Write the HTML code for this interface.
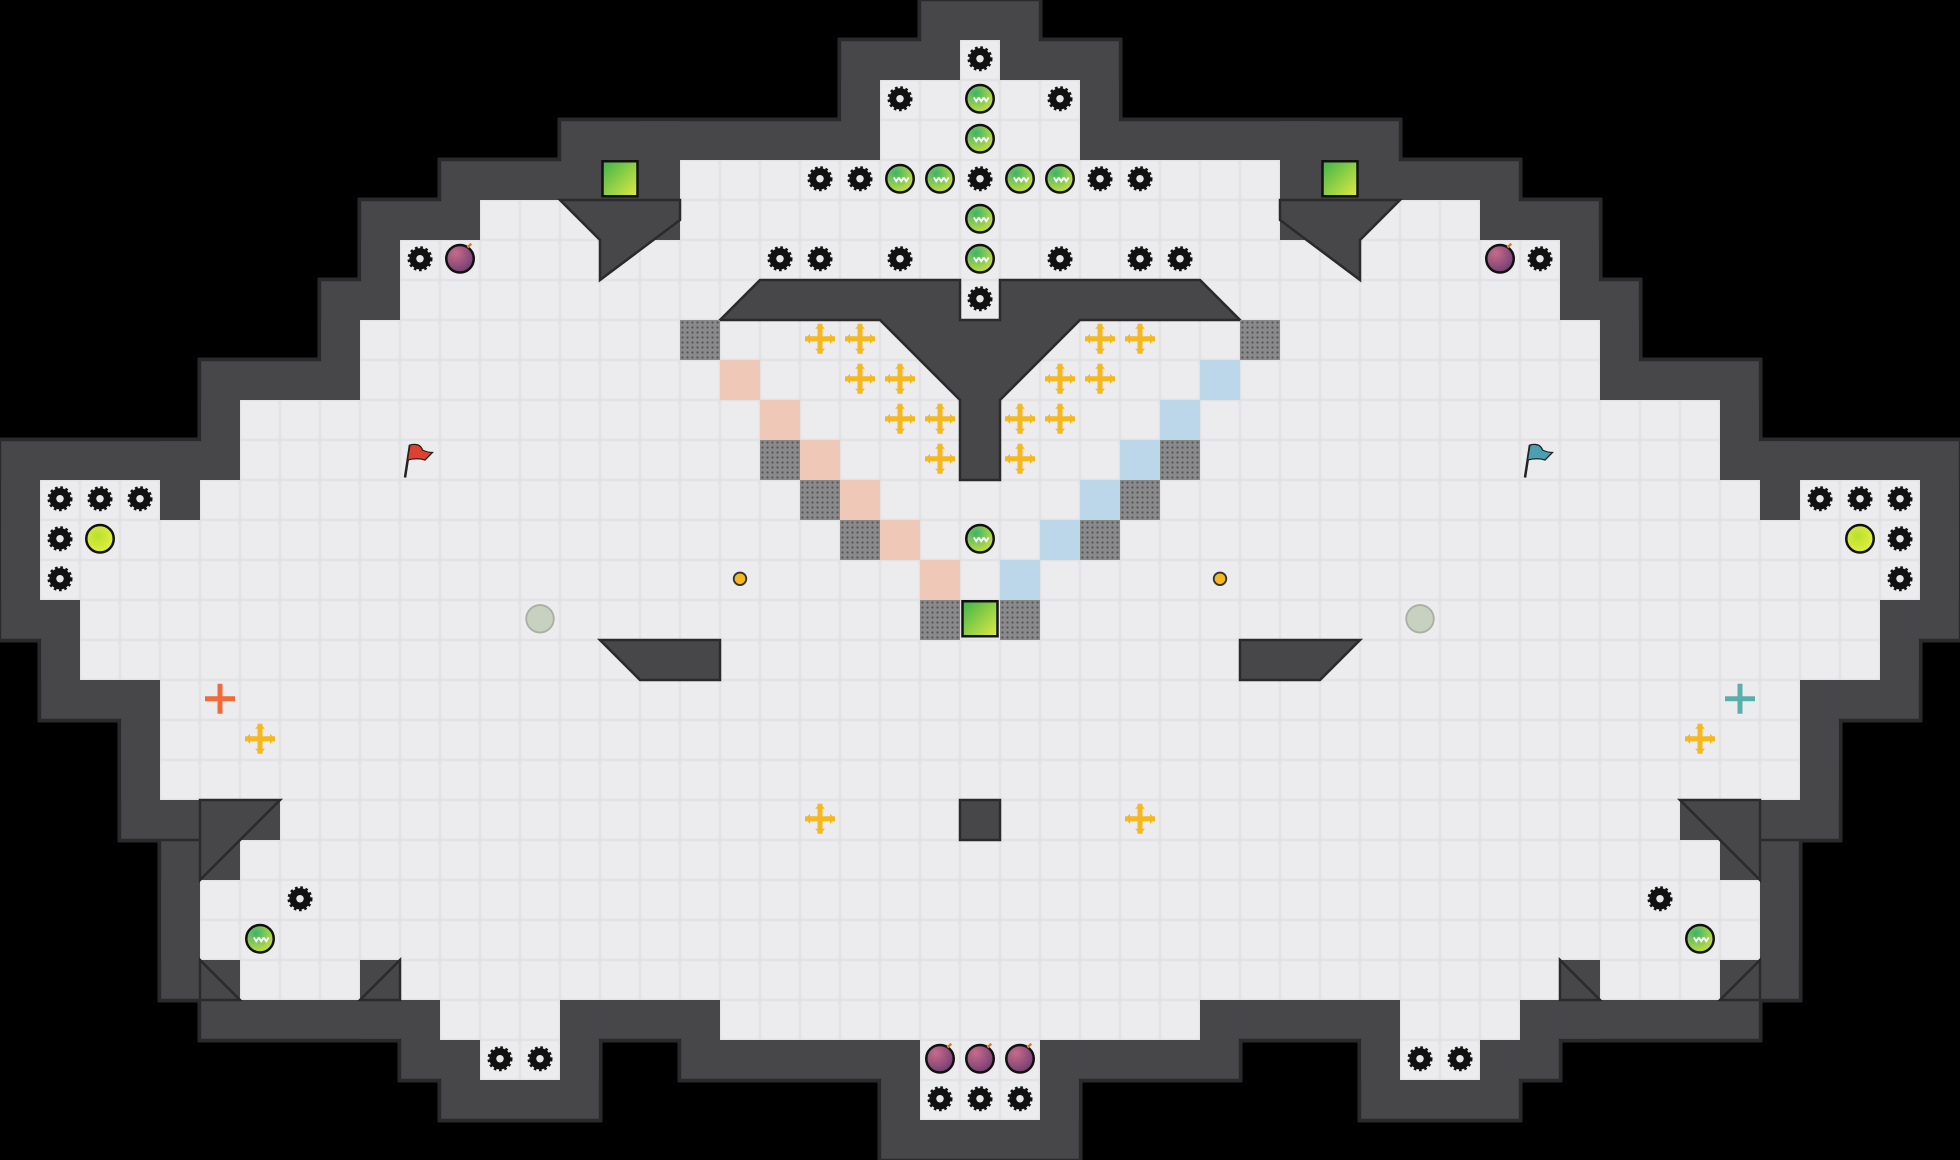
<!DOCTYPE html>
<html><head><meta charset="utf-8"><style>
html,body{margin:0;padding:0;background:#000;}
svg{display:block}
</style></head><body>
<svg id="s" width="1960" height="1160" viewBox="0 0 1568 928" xmlns="http://www.w3.org/2000/svg">
<defs>
<radialGradient id="gb" cx="0.35" cy="0.3" r="0.8"><stop offset="0" stop-color="#3cb46a"/><stop offset="1" stop-color="#d8e23a"/></radialGradient>
<radialGradient id="yb" cx="0.4" cy="0.4" r="0.7"><stop offset="0" stop-color="#b8e030"/><stop offset="1" stop-color="#e8f040"/></radialGradient>
<radialGradient id="bm" cx="0.35" cy="0.3" r="0.8"><stop offset="0" stop-color="#c86a8a"/><stop offset="1" stop-color="#6a3a70"/></radialGradient>
<linearGradient id="gs" x1="0" y1="0" x2="1" y2="1"><stop offset="0" stop-color="#3cb44a"/><stop offset="1" stop-color="#e0ea40"/></linearGradient>
<pattern id="dots" width="4" height="4" patternUnits="userSpaceOnUse"><rect width="4" height="4" fill="#8a8a8c"/><circle cx="2" cy="2" r="0.9" fill="#555"/></pattern>
<g id="gear"><circle r="8.5" fill="#111" stroke="#111" stroke-width="3" stroke-dasharray="2 2"/><circle r="7.5" fill="#111"/><circle r="3" fill="#e6e6e9"/></g>
<g id="ball"><circle r="11" fill="url(#gb)" stroke="#111" stroke-width="2"/><path d="M-5,-1 l2,3 l2,-3 M-1,-1 l2,3 l2,-3 M3,-1 l2,3 l2,-3" stroke="#fff" stroke-width="1.5" fill="none"/></g>
<g id="bomb"><circle r="11" fill="url(#bm)" stroke="#111" stroke-width="2"/><path d="M6,-9 l3,-3" stroke="#d08030" stroke-width="2"/></g>
<g id="cross"><circle r="11" fill="#ececf0"/><path d="M-12,0 H12 M0,-12 V12" stroke="#f5b820" stroke-width="4"/><path d="M-12,0 l4,-4 v8z M12,0 l-4,-4 v8z M0,-12 l-4,4 h8z M0,12 l-4,-4 h8z" fill="#f5b820"/></g>
</defs>
<g id="walls1"></g><g id="walls2"></g><g id="floor"></g><g id="items"></g>
</svg>
<script>
var R={1:[[24,24]],2:[[22,26]],3:[[22,26]],4:[[15,15],[17,31],[33,33]],5:[[12,14],[17,31],[34,36]],6:[[10,38]],7:[[10,38]],8:[[9,39]],9:[[9,39]],10:[[6,42]],11:[[6,42]],12:[[1,3],[5,43],[45,47]],13:[[1,47]],14:[[1,47]],15:[[2,46]],16:[[2,46]],17:[[4,44]],18:[[4,44]],19:[[4,44]],20:[[7,41]],21:[[6,42]],22:[[5,43]],23:[[5,43]],24:[[6,8],[10,38],[40,42]],25:[[11,13],[18,29],[35,37]],26:[[12,13],[23,25],[35,36]],27:[[23,25]]};
var NS='http://www.w3.org/2000/svg';
function el(p,t,a){var e=document.createElementNS(NS,t);for(var k in a)e.setAttribute(k,a[k]);document.getElementById(p).appendChild(e);return e;}
for(var r in R){R[r].forEach(function(s){var x=s[0]*32,w=(s[1]-s[0]+1)*32,y=r*32;
el('walls1','rect',{x:x-34,y:y-34,width:w+68,height:100,fill:'#2a2a2c'});
el('walls2','rect',{x:x-31,y:y-31,width:w+62,height:94,fill:'#47474a'});
var niche=(r==4&&(s[0]==15||s[0]==33));
if(!niche){for(var c=s[0];c<=s[1];c++){el('floor','rect',{x:c*32,y:y,width:32,height:32,fill:'#e3e3e6'});el('floor','rect',{x:c*32+1,y:y+1,width:30,height:30,fill:'#ececef',rx:2});}}
});}
function poly(pts){el('items','polygon',{points:pts,fill:'#47474a',stroke:'#2a2a2c','stroke-width':2});}
poly('448,160 544,160 544,176 480,224 480,192 448,160');
poly('1024,160 1120,160 1088,192 1088,224 1024,176');
poly('576,256 608,224 768,224 768,256 800,256 800,224 960,224 992,256 864,256 800,320 800,384 768,384 768,320 704,256');
poly('480,512 576,512 576,544 512,544');poly('992,512 1088,512 1056,544 992,544');
poly('768,640 800,640 800,672 768,672');
poly('160,640 224,640 160,704');poly('1344,640 1408,640 1408,704');
poly('160,768 192,800 160,800');poly('1408,768 1376,800 1408,800');
poly('288,800 320,768 320,800');poly('1248,768 1280,800 1248,800');
function tile(x,y,f){el('items','rect',{x:x,y:y,width:32,height:32,fill:f});}
[[576,288],[608,320],[640,352],[672,384],[704,416],[736,448]].forEach(function(p){tile(p[0],p[1],'#f0c8b8');});
[[960,288],[928,320],[896,352],[864,384],[832,416],[800,448]].forEach(function(p){tile(p[0],p[1],'#bcd6ea');});
[[544,256],[992,256],[608,352],[640,384],[672,416],[928,352],[896,384],[864,416],[736,480],[800,480]].forEach(function(p){tile(p[0],p[1],'url(#dots)');});
function use(id,x,y){el('items','use',{href:'#'+id,x:x,y:y});}
[[784,47],[720,79],[848,79],[656,143],[688,143],[784,143],[880,143],[912,143],[336,207],[624,207],[656,207],[720,207],[848,207],[912,207],[944,207],[1232,207],[784,239],[48,399],[80,399],[112,399],[48,431],[48,463],[1456,399],[1488,399],[1520,399],[1520,431],[1520,463],[240,719],[1328,719],[400,847],[432,847],[1136,847],[1168,847],[752,879],[784,879],[816,879]].forEach(function(p){use('gear',p[0],p[1]);});
[[784,79],[784,111],[720,143],[752,143],[816,143],[848,143],[784,175],[784,207],[784,431],[208,751],[1360,751]].forEach(function(p){use('ball',p[0],p[1]);});
[[368,207],[1200,207],[752,847],[784,847],[816,847]].forEach(function(p){use('bomb',p[0],p[1]);});
[[656,271],[688,271],[880,271],[912,271],[688,303],[720,303],[848,303],[880,303],[720,335],[752,335],[816,335],[848,335],[752,367],[816,367],[208,591],[1360,591],[656,655],[912,655]].forEach(function(p){use('cross',p[0],p[1]);});
[[80,431],[1488,431]].forEach(function(p){el('items','circle',{cx:p[0],cy:p[1],r:11,fill:'url(#yb)',stroke:'#111','stroke-width':2});});
[[496,143],[1072,143],[784,495]].forEach(function(p){el('items','rect',{x:p[0]-14,y:p[1]-14,width:28,height:28,fill:'url(#gs)',stroke:'#111','stroke-width':2});});
[[592,463],[976,463]].forEach(function(p){el('items','circle',{cx:p[0],cy:p[1],r:5,fill:'#f5b820',stroke:'#333','stroke-width':1.5});});
[[432,495],[1136,495]].forEach(function(p){el('items','circle',{cx:p[0],cy:p[1],r:11,fill:'#c8d0c0',stroke:'#aab0a4','stroke-width':1.5});});
function cr(x,y,c){el('items','path',{d:'M'+(x-12)+','+y+'H'+(x+12)+'M'+x+','+(y-12)+'V'+(y+12),stroke:c,'stroke-width':4});}
cr(176,559,'#f06a3a');cr(1392,559,'#5ab0a8');
function flag(x,y,c){el('items','path',{d:'M'+(x-12)+','+(y+14)+' L'+(x-8)+','+(y-12),stroke:'#222','stroke-width':2});el('items','path',{d:'M'+(x-8)+','+(y-12)+' q8,-2 10,4 q4,2 8,2 l-6,6 q-6,-2 -14,0z',fill:c,stroke:'#222','stroke-width':1});}
flag(336,368,'#e04030');flag(1232,368,'#4aa0b0');
</script>
</body></html>
